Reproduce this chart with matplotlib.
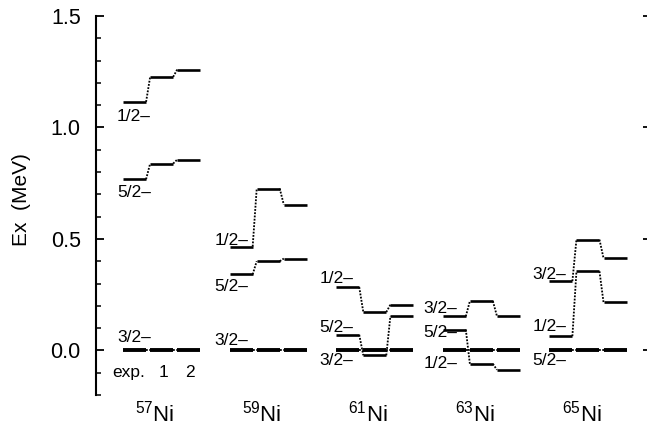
import matplotlib
matplotlib.use('Agg')
import matplotlib.pyplot as plt
from matplotlib.ticker import MultipleLocator

plt.rcParams['font.family'] = ['Liberation Sans', 'DejaVu Sans']
plt.rcParams['mathtext.default'] = 'regular'

# mass numbers of the Ni isotopes
masses = ['57', '59', '61', '63', '65']

# level spins and energies (MeV): experiment, calc 1, calc 2
ni57_spins = ['3/2–', '5/2–', '1/2–']
ni57_exp = [0.0, 0.768, 1.115]
ni57_calc1 = [0.0, 0.838, 1.227]
ni57_calc2 = [0.0, 0.856, 1.260]

ni59_spins = ['3/2–', '5/2–', '1/2–']
ni59_exp = [0.0, 0.341, 0.466]
ni59_calc1 = [0.0, 0.400, 0.726]
ni59_calc2 = [0.0, 0.412, 0.654]

ni61_spins = ['3/2–', '5/2–', '1/2–']
ni61_exp = [0.0, 0.070, 0.284]
ni61_calc1 = [0.0, -0.022, 0.172]
ni61_calc2 = [0.0, 0.153, 0.205]

ni63_spins = ['1/2–', '5/2–', '3/2–']
ni63_exp = [0.0, 0.093, 0.153]
ni63_calc1 = [0.0, -0.060, 0.221]
ni63_calc2 = [0.0, -0.087, 0.154]

ni65_spins = ['5/2–', '1/2–', '3/2–']
ni65_exp = [0.0, 0.064, 0.311]
ni65_calc1 = [0.0, 0.355, 0.497]
ni65_calc2 = [0.0, 0.216, 0.414]

spins = [ni57_spins, ni59_spins, ni61_spins, ni63_spins, ni65_spins]
levels = [
    [ni57_exp, ni57_calc1, ni57_calc2],
    [ni59_exp, ni59_calc1, ni59_calc2],
    [ni61_exp, ni61_calc1, ni61_calc2],
    [ni63_exp, ni63_calc1, ni63_calc2],
    [ni65_exp, ni65_calc1, ni65_calc2],
]
column_names = ['exp.', '1', '2']

# pixel -> data scale (for label nudges)
px_x = 1 / 106.5
px_y = 1 / 222.7
label_dx = [-6, -15, -17, -19, -17]
label_dy = [[13, -13, -15], [10, -12, 6], [-10, 7, 9], [-13, -3, 8], [-10, 10, 7]]

fig = plt.figure(figsize=(6.47, 4.26), dpi=100)
ax = fig.add_axes([96 / 647, 1 - 395 / 426, 551 / 647, 379 / 426])

pitch = 0.254
width = 0.216
lab_fs = 12.5
for i in range(len(masses)):
    cols = levels[i]
    for j in range(len(spins[i])):
        lw = 2.8 if j == 0 else 1.9
        for c in range(3):
            x0 = i + pitch + c * pitch
            ax.plot([x0, x0 + width], [cols[c][j]] * 2, color='black', lw=lw,
                    solid_capstyle='butt')
            if c < 2:
                ax.plot([x0 + width, x0 + pitch], [cols[c][j], cols[c + 1][j]],
                        color='black', lw=1.3, ls=(0, (1, 0.8)))
        ax.text(i + pitch + label_dx[i] * px_x, cols[0][j] + label_dy[i][j] * px_y,
                spins[i][j], fontsize=lab_fs, ha='left', va='center')
    ax.text(i + 0.555, -0.317, r'$^{%s}$Ni' % masses[i], fontsize=16,
            ha='center', va='baseline', clip_on=False)

# column legend under 57Ni
ax.text(0.305, -0.099, column_names[0], fontsize=lab_fs, ha='center', va='center')
ax.text(pitch * 2 + width / 2 + 0.02, -0.099, column_names[1], fontsize=lab_fs,
        ha='center', va='center')
ax.text(pitch * 3 + width / 2 + 0.01, -0.099, column_names[2], fontsize=lab_fs,
        ha='center', va='center')

ax.set_xlim(0, 5.17)
ax.set_ylim(-0.2, 1.5)
ax.set_yticks([0.0, 0.5, 1.0, 1.5])
ax.set_yticklabels(['0.0', '0.5', '1.0', '1.5'])
ax.yaxis.set_minor_locator(MultipleLocator(0.1))
ax.set_xticks([])
for s in ['top', 'right', 'bottom']:
    ax.spines[s].set_visible(False)
ax.spines['left'].set_linewidth(1.5)
ax.tick_params(axis='y', which='major', direction='in', length=6, width=1.3,
               labelsize=15.5, pad=11)
ax.tick_params(axis='y', which='minor', direction='in', length=3.5, width=1.1)

# short inward ticks on the right edge
ax2 = ax.twinx()
ax2.set_ylim(ax.get_ylim())
ax2.set_yticks([0.0, 0.5, 1.0, 1.5])
ax2.set_yticklabels([])
ax2.tick_params(axis='y', direction='in', length=3, width=1.3)
for s in ax2.spines.values():
    s.set_visible(False)

fig.text(22 / 647, 1 - 200 / 426, 'Ex  (MeV)', rotation=90, fontsize=15,
         ha='center', va='center')

fig.savefig('out.png', dpi=100)
